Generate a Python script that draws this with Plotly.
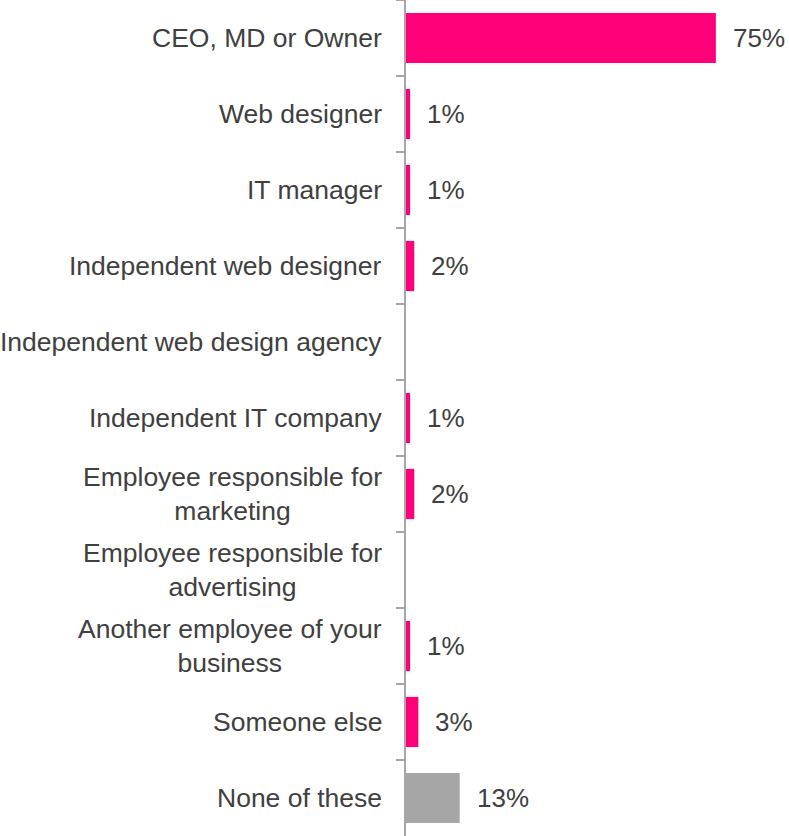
import plotly.graph_objects as go

categories = [
    "CEO, MD or Owner",
    "Web designer",
    "IT manager",
    "Independent web designer",
    "Independent web design agency",
    "Independent IT company",
    "Employee responsible for<br>marketing",
    "Employee responsible for<br>advertising",
    "Another employee of your<br>business",
    "Someone else",
    "None of these",
]
values = [75, 1, 1, 2, 0, 1, 2, 0, 1, 3, 13]

PINK = "#FF0078"
GREY = "#A6A6A6"
TEXT = "#404040"
FONT = "Liberation Sans, Arial, sans-serif"

colors = [GREY if c == "None of these" else PINK for c in categories]

fig = go.Figure(
    go.Bar(
        x=values,
        y=categories,
        orientation="h",
        marker=dict(color=colors, line=dict(width=0)),
        width=0.66,
        hoverinfo="skip",
    )
)

annotations = []
# category labels, centred multi-line text right-aligned to the axis
for c in categories:
    annotations.append(dict(
        x=0, xref="paper", y=c, yref="y",
        text=c, showarrow=False,
        xanchor="right", yanchor="middle", align="center",
        xshift=-22,
        font=dict(family=FONT, size=26.5, color=TEXT),
    ))
# value labels beside each bar
for c, v in zip(categories, values):
    if v > 0:
        annotations.append(dict(
            x=v, xref="x", y=c, yref="y",
            text=f"{v}%", showarrow=False,
            xanchor="left", yanchor="middle",
            xshift=15,
            font=dict(family=FONT, size=26, color=TEXT),
        ))

fig.update_layout(
    width=789, height=836,
    margin=dict(l=406, r=0, t=0, b=0),
    paper_bgcolor="white", plot_bgcolor="white",
    showlegend=False,
    annotations=annotations,
    xaxis=dict(range=[0, 92.7], showgrid=False, zeroline=False,
               showticklabels=False, showline=False, ticks=""),
    yaxis=dict(range=[10.5, -0.5], type="category",
               categoryorder="array", categoryarray=categories,
               showgrid=False, zeroline=False, showticklabels=False,
               showline=True, linecolor=GREY, linewidth=2,
               ticks="outside", tickson="boundaries", ticklen=8,
               tickcolor=GREY, tickwidth=2),
)

fig.write_html("out.html")
